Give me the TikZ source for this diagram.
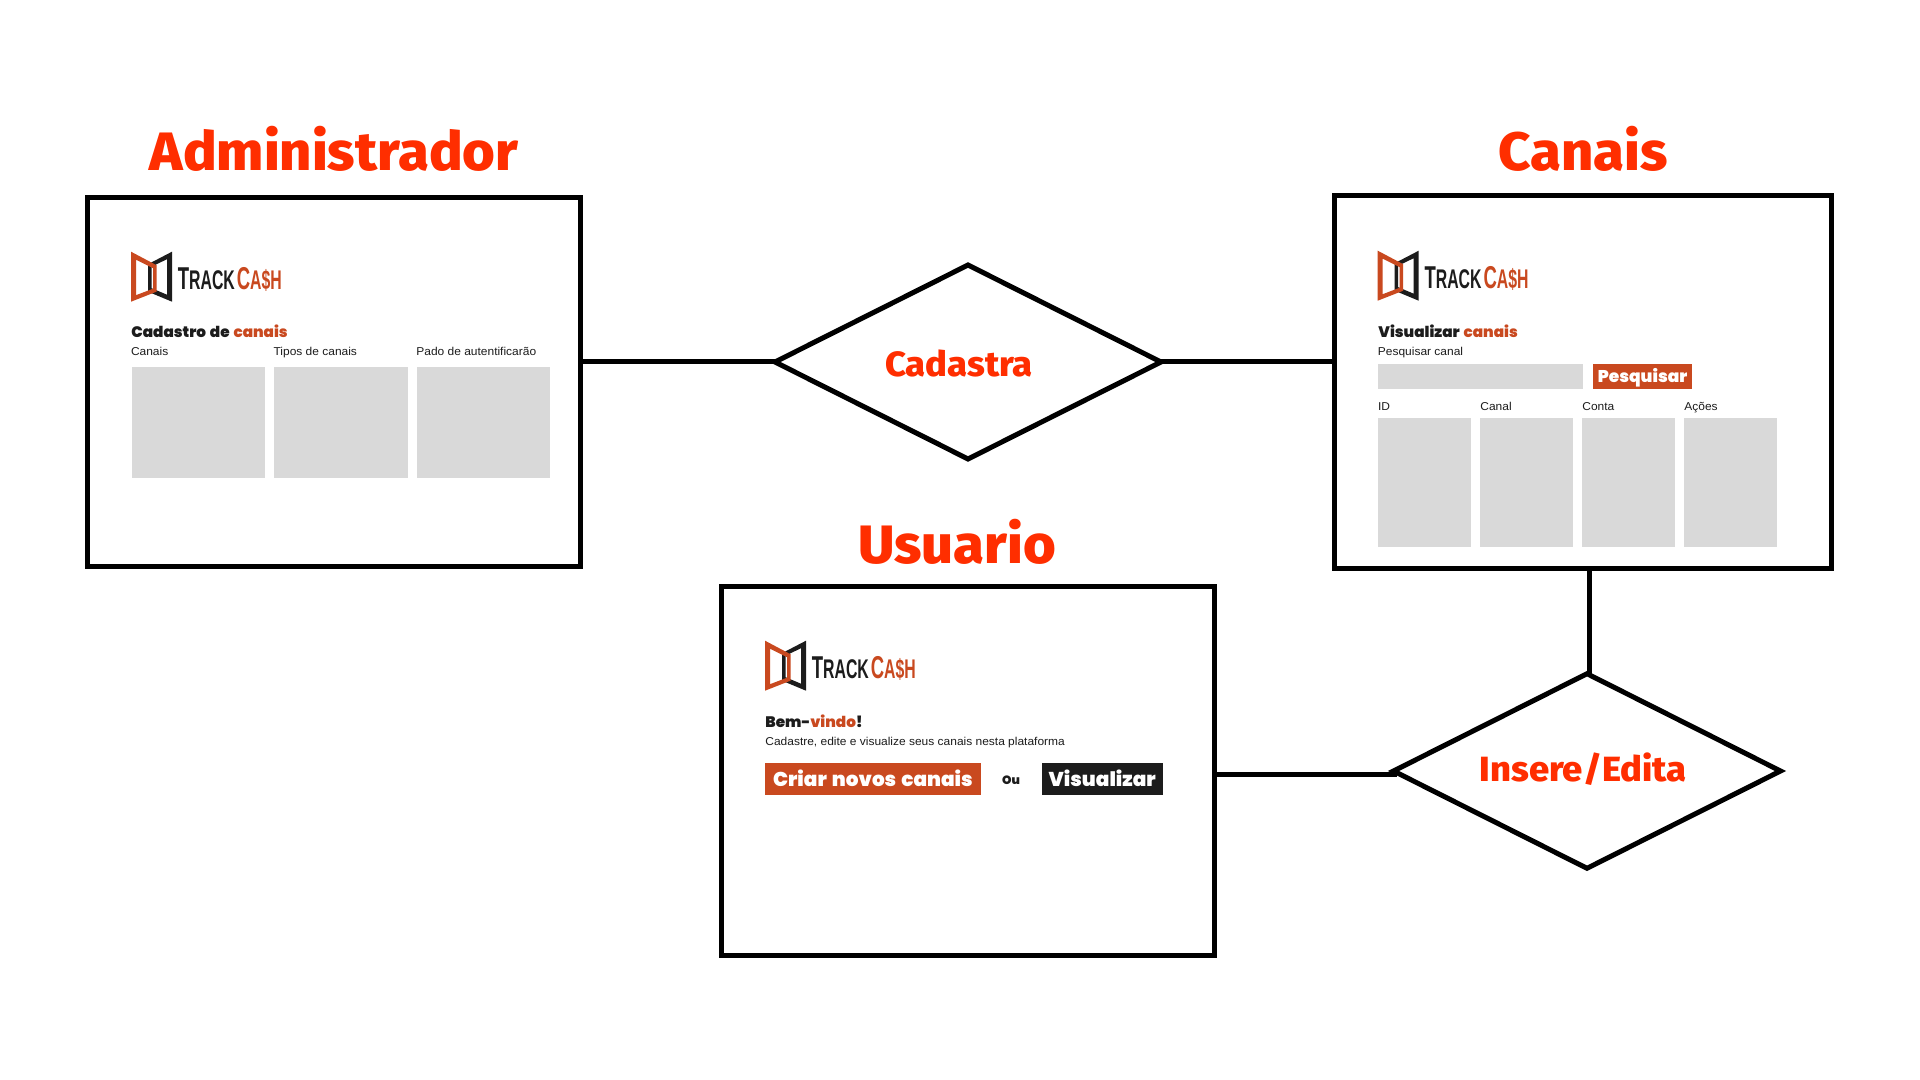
\documentclass[tikz,border=0pt]{standalone}
\usepackage{fontspec}
\setmainfont{Liberation Sans}[FakeStretch=1.05]
\newfontfamily\titlefont{Fira Sans ExtraBold}[FakeStretch=1.04]
\newfontfamily\heavyfont{Poppins}[UprightFont=* Black, WordSpace=1.5]
\newfontfamily\logofont{Liberation Sans}[FakeStretch=0.585]
\usetikzlibrary{shapes.geometric}
\definecolor{redtitle}{HTML}{FF2E00}
\definecolor{cashorange}{HTML}{C9491F}
\definecolor{cashdark}{HTML}{1C1C1C}
\definecolor{fieldgray}{HTML}{D9D9D9}
\tikzset{
  trackcash/.pic={
    \fill[cashdark, even odd rule] (41,0) -- (17,12.5) -- (17,40) -- (41,50) -- cycle
      (36,7.5) -- (20.5,15) -- (20.5,36.5) -- (36,43) -- cycle;
    \fill[cashorange, even odd rule] (0,0) -- (25.5,13.5) -- (25.5,40) -- (0,50) -- cycle
      (5,8) -- (22,16.5) -- (22,37) -- (5,43.5) -- cycle;
    \node[inner sep=0, anchor=base west, font=\logofont\bfseries] (word) at (46.5,37.6)
      {\color{cashdark}{\fontsize{15.8}{16}\selectfont T}{\fontsize{13.5}{16}\selectfont RACK}\hspace{1pt}\color{cashorange}{\fontsize{15.8}{16}\selectfont C}{\fontsize{13.5}{16}\selectfont A\$H}};
  }
}
\begin{document}
\begin{tikzpicture}[x=0.5pt, y=-0.5pt]
\tikzstyle{screen}=[draw, line width=2.5pt, inner sep=0, outer sep=0, minimum width=246.5pt, minimum height=184.5pt]
\tikzstyle{rel}=[diamond, draw, line width=2.5pt, inner sep=0, outer sep=0]
\tikzstyle{conn}=[line width=2.5pt]
\tikzstyle{titletx}=[text=redtitle, inner sep=0, anchor=base, font=\titlefont\fontsize{27}{30}\selectfont]
\tikzstyle{reltx}=[text=redtitle, inner sep=0, anchor=base, font=\titlefont\fontsize{17.5}{20}\selectfont]
\tikzstyle{headtx}=[inner sep=0, anchor=base west, text=cashdark, font=\heavyfont\fontsize{7.6}{9}\selectfont]
\tikzstyle{smalltx}=[inner sep=0, anchor=base west, text=cashdark, font=\fontsize{5.7}{7}\selectfont]
\tikzstyle{field}=[fill=fieldgray, inner sep=0, anchor=north west]
\tikzstyle{btn}=[text=white, inner sep=0, anchor=north west, minimum height=15.7pt, text height=7.3pt, text depth=0pt, font=\heavyfont\fontsize{10}{11}\selectfont]
\useasboundingbox (0,0) rectangle (1920,1080);
\fill[white] (0,0) rectangle (1920,1080);

% screens
\node[screen] (adm) at (334,382) {};
\node[screen, minimum width=248.7pt, minimum height=186.3pt] (can) at (1582.8,382) {};
\node[screen] (usr) at (968,771) {};

\node[titletx] (admT) at (334,171) {Administrador};
\node[titletx] (canT) at (1583,171) {Canais};
\node[titletx] (usrT) at (957,563) {Usuario};

% relations
\node[rel, minimum width=193pt, minimum height=97pt] (cad) at (968,362) {};
\node[rel, minimum width=193.5pt, minimum height=97.3pt] (ins) at (1587,771) {};
\node[reltx] (cadT) at (959,377) {Cadastra};
\node[reltx] (insT) at (1583,781) {Insere/Edita};
\coordinate (insN) at (1589,674);
\coordinate (insW) at (1397,774);

\draw[conn] (adm.east |- cad.west) edge (cad.west);
\draw[conn] (cad.east) edge (can.west |- cad.east);
\draw[conn] (can.south -| insN) edge (insN);
\draw[conn] (usr.east |- insW) edge (insW);

% administrador
\pic at (131,251.7) {trackcash};
\node[headtx] (admH) at (131,338) {Cadastro de \textcolor{cashorange}{canais}};
\foreach \cx/\lx/\lab/\nm in {131.2/130.6/Canais/a, 273.8/273.2/Tipos de canais/b, 416.2/416/Pado de autentificarão/c} {
  \node[smalltx] (admL\nm) at (\lx,356) {\lab};
  \node[field, minimum width=66.8pt, minimum height=55.2pt] (admF\nm) at (\cx,366.8) {};
}

% canais
\pic at (1377.7,250.7) {trackcash};
\node[headtx] (canH) at (1378,338) {Visualizar \textcolor{cashorange}{canais}};
\node[smalltx] (canS) at (1377.5,356) {Pesquisar canal};
\node[field, minimum width=102.7pt, minimum height=12.8pt] (canQ) at (1377.4,363.3) {};
\node[btn, fill=cashorange, minimum width=49.8pt, minimum height=12.8pt, text height=5.7pt, font=\heavyfont\fontsize{8.5}{9}\selectfont] (canB) at (1592.4,363.3) {Pesquisar};
\foreach \cx/\lab/\nm in {1377.7/ID/a, 1480/Canal/b, 1582/Conta/c, 1684/Ações/d} {
  \node[smalltx] (canL\nm) at (\cx,410) {\lab};
  \node[field, minimum width=46.4pt, minimum height=64.5pt] (canF\nm) at (\cx,418) {};
}

% usuario
\pic at (765,640.7) {trackcash};
\node[headtx] (usrH) at (765,727) {Bem-\textcolor{cashorange}{vindo}!};
\node[smalltx] (usrS) at (765,745) {Cadastre, edite e visualize seus canais nesta plataforma};
\node[btn, fill=cashorange, minimum width=107.8pt] (usrA) at (764.7,763) {Criar novos canais};
\node[inner sep=0, anchor=base, text=cashdark, font=\heavyfont\fontsize{6}{7}\selectfont] (usrO) at (1011,784.3) {Ou};
\node[btn, fill=cashdark, minimum width=60.5pt] (usrB) at (1041.3,763) {Visualizar};
\end{tikzpicture}
\end{document}
